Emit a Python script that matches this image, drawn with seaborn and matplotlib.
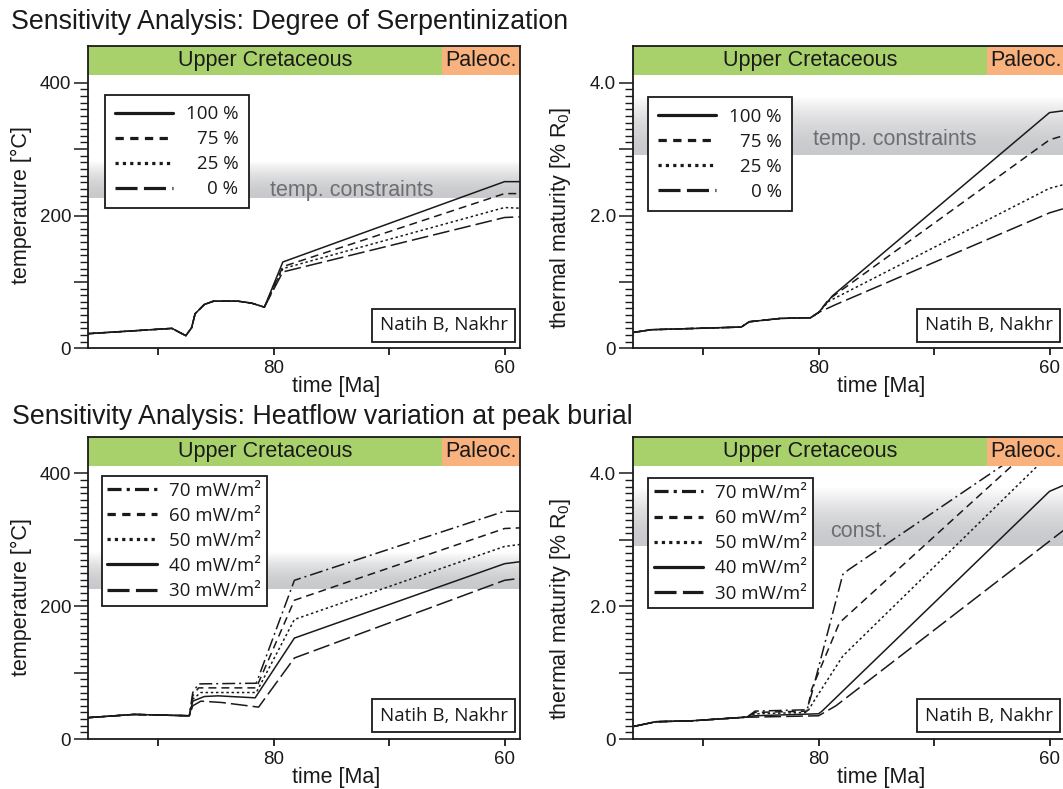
import numpy as np
import pandas as pd
import seaborn as sns
import matplotlib.pyplot as plt
from matplotlib.lines import Line2D
from matplotlib.offsetbox import AnchoredText
from matplotlib.ticker import FixedLocator, FixedFormatter

sns.set_theme(style="white")
plt.rcParams['font.family'] = ['Liberation Sans', 'DejaVu Sans']
plt.rcParams['mathtext.fontset'] = 'custom'
plt.rcParams['mathtext.rm'] = 'Liberation Sans'
plt.rcParams['mathtext.it'] = 'Liberation Sans:italic'
for k in ['text.color', 'axes.labelcolor', 'xtick.color', 'ytick.color']:
    plt.rcParams[k] = 'k'

# ---- data ----
t_left, t_right = 96.1, 58.66
eras = ['Upper Cretaceous', 'Paleoc.']
era_start = [100.5, 65.4]
era_end = [65.4, 56.0]

# serpentinization, temperature
serp_cases = ['100 %', '75 %', '25 %', '0 %']
serp_T_time0 = [96.1, 88.8, 87.6, 87.1, 86.8, 86.0, 85.2, 83.1, 81.9, 80.8]
serp_T_val0 = [22, 30, 19, 31, 52, 66, 71, 71, 68, 62]
serp_T_time = [79.2, 60.0, 58.66]
serp_T = {'100 %': [130, 251, 251],
          '75 %': [123, 233, 233],
          '25 %': [120, 212, 211],
          '0 %': [115, 197, 198]}

# serpentinization, maturity
serp_R_time0 = [96.0, 94.5, 86.7, 86.0, 83.3, 80.7, 80.0]
serp_R_val0 = [0.24, 0.28, 0.32, 0.40, 0.45, 0.46, 0.54]
serp_R_time = {'100 %': [78.8, 60.0, 58.66],
               '75 %': [79.1, 60.0, 58.66],
               '25 %': [79.1, 60.0, 58.66],
               '0 %': [78.5, 60.0, 58.66]}
serp_R = {'100 %': [0.79, 3.55, 3.58],
          '75 %': [0.74, 3.14, 3.21],
          '25 %': [0.71, 2.41, 2.47],
          '0 %': [0.66, 2.04, 2.11]}

# heatflow, temperature
hf_cases = ['70 mW/m²', '60 mW/m²', '50 mW/m²', '40 mW/m²', '30 mW/m²']
hf_T_time0 = [96.2, 92.1, 87.3]
hf_T_val0 = [32, 37, 35]
hf_T_time = {'70 mW/m²': [87.0, 86.5, 81.5, 78.2, 60.0, 58.66],
             '60 mW/m²': [87.0, 86.5, 81.5, 78.2, 60.0, 58.66],
             '50 mW/m²': [87.0, 86.3, 81.5, 78.2, 60.0, 58.66],
             '40 mW/m²': [87.0, 86.0, 84.8, 81.6, 78.2, 60.0, 58.66],
             '30 mW/m²': [87.0, 86.3, 84.5, 81.3, 78.2, 60.0, 58.66]}
hf_T = {'70 mW/m²': [70, 83, 84, 239, 343, 343],
        '60 mW/m²': [65, 77, 77, 209, 317, 318],
        '50 mW/m²': [60, 70, 70, 180, 290, 293],
        '40 mW/m²': [57, 64, 65, 62, 152, 264, 267],
        '30 mW/m²': [50, 57, 55, 48, 122, 239, 242]}

# heatflow, maturity
hf_R_time0 = [96.0, 94.1, 90.9, 86.2]
hf_R_val0 = [0.19, 0.26, 0.275, 0.33]
hf_R_time = {'70 mW/m²': [85.5, 81.0, 80.6, 77.9, 77.4, 60.0, 58.66],
             '60 mW/m²': [85.5, 81.0, 80.6, 78.2, 60.0, 58.66],
             '50 mW/m²': [85.5, 81.0, 80.3, 77.9, 60.0, 58.66],
             '40 mW/m²': [85.5, 80.0, 79.7, 60.0, 58.66],
             '30 mW/m²': [85.5, 80.0, 78.5, 60.0, 58.66]}
hf_R = {'70 mW/m²': [0.42, 0.44, 0.68, 2.48, 2.55, 4.60, 4.76],
        '60 mW/m²': [0.40, 0.42, 0.75, 1.75, 4.63, 4.84],
        '50 mW/m²': [0.38, 0.40, 0.60, 1.25, 4.29, 4.52],
        '40 mW/m²': [0.35, 0.38, 0.42, 3.73, 3.83],
        '30 mW/m²': [0.33, 0.35, 0.50, 2.98, 3.16]}

temp_constraint = (226, 281)
mat_constraint = (2.91, 3.79)

# ---- styles ----
line_dashes = {'100 %': '', '75 %': (5.2, 3.3), '25 %': (1.6, 1.8), '0 %': (11, 3.3),
               '70 mW/m²': (8.5, 2.6, 1.3, 2.6), '60 mW/m²': (5.2, 3.3),
               '50 mW/m²': (1.6, 1.8), '40 mW/m²': '', '30 mW/m²': (11, 3.3)}
leg_dashes = {'100 %': (), '75 %': (2.6, 2.0), '25 %': (1.0, 1.3), '0 %': (6.9, 2.0),
              '70 mW/m²': (4.4, 1.6, 1.0, 1.6), '60 mW/m²': (2.6, 2.0),
              '50 mW/m²': (1.0, 1.3), '40 mW/m²': (), '30 mW/m²': (6.9, 2.0)}
green, orange = '#a9d16b', '#f9b17e'
legend_font = 'Open Sans'


def frame(cases, time0, val0, times, vals):
    rows = []
    for c in cases:
        tt = time0 + (times[c] if isinstance(times, dict) else times)
        vv = val0 + vals[c]
        rows.append(pd.DataFrame({'time': tt, 'value': vv, 'case': c}))
    return pd.concat(rows, ignore_index=True)


W, H = 1063, 789
fig = plt.figure(figsize=(W / 100, H / 100), dpi=100)


def px_axes(left, top, width=432.3, height=302.3):
    return fig.add_axes([left / W, 1 - (top + height) / H, width / W, height / H])


def panel(ax, df, cases, ytop, band_lo, shade, ymajor, ylabels, yminor, ylabel, ylab_y):
    sns.lineplot(data=df, x='time', y='value', style='case', style_order=cases,
                 dashes={c: line_dashes[c] for c in cases}, color='k', linewidth=1.1,
                 estimator=None, sort=False, legend=False, ax=ax, zorder=2)
    # gradient constraint band
    n = 200
    f = np.linspace(0, 1, n)[:, None]
    rgba = np.zeros((n, 1, 4))
    rgba[..., :3] = (0.785, 0.79, 0.80)
    rgba[..., 3] = 1 - f ** 1.8
    ax.imshow(rgba, extent=(t_left, t_right, shade[0], shade[1]), origin='lower',
              aspect='auto', interpolation='bilinear', zorder=0.5)
    # era band on top
    for name, s, e, col in zip(eras, era_start, era_end, [green, orange]):
        s_vis, e_vis = min(s, t_left), max(e, t_right)
        ax.fill_between([s_vis, e_vis], band_lo, ytop, color=col, lw=0, zorder=3)
        ax.text((s_vis + e_vis) / 2, (band_lo + ytop) / 2, name, ha='center', va='center',
                fontsize=15.5, zorder=4)
    ax.set_xlim(t_left, t_right)
    ax.set_ylim(0, ytop)
    for sp in ax.spines.values():
        sp.set_visible(True)
        sp.set_color('k')
        sp.set_linewidth(1.3)
        sp.set_zorder(5)
    ax.xaxis.set_major_locator(FixedLocator([90, 80, 70, 60]))
    ax.xaxis.set_major_formatter(FixedFormatter(['', '80', '', '60']))
    ax.yaxis.set_major_locator(FixedLocator(ymajor))
    ax.yaxis.set_major_formatter(FixedFormatter(ylabels))
    ax.yaxis.set_minor_locator(FixedLocator(yminor))
    ax.tick_params(axis='x', which='major', direction='out', length=5, width=1.3,
                   pad=3.5, labelsize=13.5, bottom=True)
    ax.tick_params(axis='y', which='major', direction='out', length=10, width=1.1,
                   pad=2, labelsize=13.5, left=True)
    ax.tick_params(axis='y', which='minor', direction='out', length=5.5, width=1.0, left=True)
    ax.set_xlabel('time [Ma]', fontsize=15.5)
    ax.xaxis.set_label_coords(0.574, -0.127)
    ax.xaxis.label.set_va('center')
    ax.set_ylabel(ylabel, fontsize=15.5)
    ax.yaxis.label.set_va('center')
    ax.yaxis.set_label_coords(ylab_y[0], ylab_y[1])
    box = AnchoredText('Natih B, Nakhr', loc='lower right', bbox_to_anchor=(0.989, 0.022),
                       bbox_transform=ax.transAxes, borderpad=0, pad=0.4,
                       prop=dict(family=legend_font, size=13.5), frameon=True)
    box.patch.set_boxstyle('square,pad=0')
    box.patch.set_edgecolor('k')
    box.patch.set_linewidth(1.3)
    box.set_zorder(6)
    ax.add_artist(box)


def add_legend(ax, cases, anchor, hl, bp, htp, ls):
    handles = [Line2D([], [], color='k', lw=2.3, dashes=leg_dashes[c]) for c in cases]
    leg = ax.legend(handles, cases, loc='upper left', bbox_to_anchor=anchor, borderaxespad=0,
                    frameon=True, fancybox=False, framealpha=1, edgecolor='k',
                    prop={'family': legend_font, 'size': 13.5}, handlelength=hl,
                    borderpad=bp, handletextpad=htp, labelspacing=ls)
    leg.get_frame().set_linewidth(1.3)
    leg.set_zorder(7)
    return leg


temp_major = [0, 100, 200, 300, 400]
temp_labels = ['0', '', '200', '', '400']
temp_minor = list(range(0, 401, 10))
mat_major = [0, 1, 2, 3, 4]
mat_labels = ['0', '', '2.0', '', '4.0']
mat_minor = list(np.round(np.arange(0, 4.01, 0.1), 2))

ax_tl = px_axes(87.7, 46.0)
ax_tr = px_axes(632.7, 46.0)
ax_bl = px_axes(87.7, 436.7)
ax_br = px_axes(632.7, 436.7)

df_tl = frame(serp_cases, serp_T_time0, serp_T_val0, serp_T_time, serp_T)
df_tr = frame(serp_cases, serp_R_time0, serp_R_val0, serp_R_time, serp_R)
df_bl = frame(hf_cases, hf_T_time0, hf_T_val0, hf_T_time, hf_T)
df_br = frame(hf_cases, hf_R_time0, hf_R_val0, hf_R_time, hf_R)

panel(ax_tl, df_tl, serp_cases, 455.3, 411.6, temp_constraint, temp_major, temp_labels,
      temp_minor, 'temperature [°C]', (-0.153, 0.474))
panel(ax_tr, df_tr, serp_cases, 4.553, 4.116, mat_constraint, mat_major, mat_labels,
      mat_minor, 'thermal maturity [% R$_0$]', (-0.167, 0.431))
panel(ax_bl, df_bl, hf_cases, 455.3, 411.6, temp_constraint, temp_major, temp_labels,
      temp_minor, 'temperature [°C]', (-0.153, 0.47))
panel(ax_br, df_br, hf_cases, 4.553, 4.116, mat_constraint, mat_major, mat_labels,
      mat_minor, 'thermal maturity [% R$_0$]', (-0.167, 0.431))

grey_txt = '#6d6e71'
ax_tl.text(80.3, 238, 'temp. constraints', color=grey_txt, fontsize=15.5, ha='left', va='center', zorder=1)
ax_tr.text(80.5, 3.14, 'temp. constraints', color=grey_txt, fontsize=15.5, ha='left', va='center', zorder=1)
ax_br.text(79.0, 3.12, 'const.', color=grey_txt, fontsize=15.5, ha='left', va='center', zorder=1)

leg_tl = add_legend(ax_tl, serp_cases, (0.040, 0.838), 3.07, 0.55, 0.7, 0.37)
leg_tr = add_legend(ax_tr, serp_cases, (0.0354, 0.830), 3.07, 0.55, 0.7, 0.37)
add_legend(ax_bl, hf_cases, (0.0324, 0.870), 2.65, 0.3, 0.64, 0.38)
add_legend(ax_br, hf_cases, (0.0354, 0.862), 2.65, 0.3, 0.64, 0.38)

fig.text(11.4 / W, 1 - 22 / H, 'Sensitivity Analysis: Degree of Serpentinization',
         fontsize=19.3, ha='left', va='center')
fig.text(12 / W, 1 - 416.7 / H, 'Sensitivity Analysis: Heatflow variation at peak burial',
         fontsize=19.3, ha='left', va='center')

# right-align the percentage labels inside their legend column
fig.canvas.draw()
renderer = fig.canvas.get_renderer()
for leg in [leg_tl, leg_tr]:
    widths = [t.get_window_extent(renderer).width for t in leg.get_texts()]
    for t, w in zip(leg.get_texts(), widths):
        t.set_position((max(widths) - w, 0))

fig.savefig('out.png', dpi=100)
